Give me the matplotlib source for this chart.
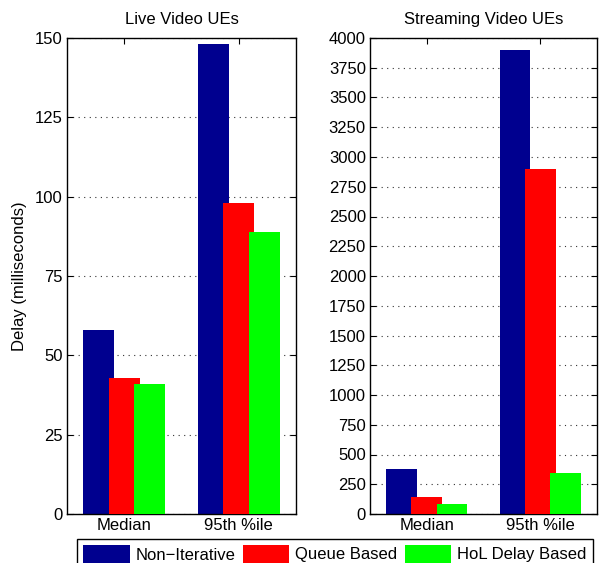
import matplotlib
matplotlib.use("Agg")
import matplotlib.pyplot as plt
import numpy as np

groups = ["Median", "95th %ile"]
series = ["Non\u2212Iterative", "Queue Based", "HoL Delay Based"]
colors = ["#00008F", "#FF0000", "#00FF00"]

live_vals = [[58, 148], [43, 98], [41, 89]]
stream_vals = [[378, 3900], [145, 2900], [80, 345]]

live_ticks = [0, 25, 50, 75, 100, 125, 150]
stream_ticks = list(range(0, 4001, 250))

plt.rcParams['font.family'] = ['Liberation Sans', 'DejaVu Sans']
plt.rcParams['font.size'] = 12

fig = plt.figure(figsize=(6, 5.63), dpi=100)
W, H = 600, 563
ax1 = fig.add_axes([67/W, 1-514/H, (296-67)/W, (514-38)/H])
ax2 = fig.add_axes([370/W, 1-514/H, (597-370)/W, (514-38)/H])

x = np.arange(1, len(groups)+1)
offs = [-0.222, 0.0, 0.222]
bw = 0.27

handles = []
for ax, vals, ticks, title in [(ax1, live_vals, live_ticks, "Live Video UEs"),
                               (ax2, stream_vals, stream_ticks, "Streaming Video UEs")]:
    for i in range(3):
        b = ax.bar(x + offs[i], vals[i], width=bw, color=colors[i], edgecolor='none',
                   label=series[i], zorder=2+i)
        if ax is ax1:
            handles.append(b)
    ax.set_xlim(0.5, 2.5)
    ax.set_ylim(ticks[0], ticks[-1])
    ax.set_yticks(ticks)
    ax.set_xticks(x)
    ax.set_xticklabels(groups)
    ax.set_title(title, fontsize=12, pad=10)
    ax.yaxis.grid(True, linestyle=(0, (1, 4)), color='#333333', linewidth=0.8, zorder=1)
    ax.set_axisbelow(True)
    ax.tick_params(direction='in', top=True, right=True, length=4, width=0.8, pad=3)
    for sp in ax.spines.values():
        sp.set_linewidth(1.0)

ax1.set_ylabel("Delay (milliseconds)", labelpad=6)

leg = fig.legend(handles, series, loc='upper left', ncol=3,
                 bbox_to_anchor=(77/W, 1-539/H),
                 frameon=True, fancybox=False, edgecolor='black', framealpha=1,
                 handlelength=2.8, handleheight=1.3, handletextpad=0.35,
                 columnspacing=0.45, borderpad=0.35, borderaxespad=0)
leg.get_frame().set_linewidth(1.0)

fig.savefig("out.png", dpi=100)
